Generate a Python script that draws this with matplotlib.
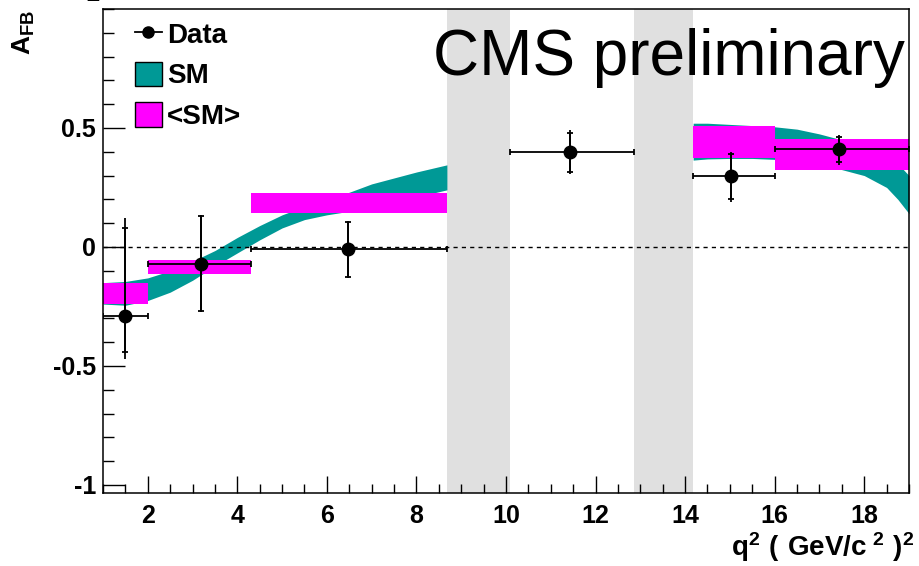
"""Forward-backward asymmetry A_FB versus q^2 with SM prediction bands."""

import matplotlib.pyplot as plt
from matplotlib.lines import Line2D
from matplotlib.patches import Patch
from matplotlib.ticker import MultipleLocator

plt.rcParams["font.family"] = ["Liberation Sans", "DejaVu Sans"]
plt.rcParams["mathtext.fontset"] = "custom"
plt.rcParams["mathtext.rm"] = "Liberation Sans"
plt.rcParams["mathtext.bf"] = "Liberation Sans:bold"
plt.rcParams["mathtext.default"] = "bf"

# measured points: bin edges, central value, stat and total error ends
bin_lo = [1.0, 2.0, 4.3, 10.09, 14.18, 16.0]
bin_hi = [2.0, 4.3, 8.68, 12.86, 16.0, 19.0]
q2_pt = [1.5, 3.18, 6.48, 11.44, 15.02, 17.44]
afb = [-0.29, -0.07, -0.01, 0.40, 0.30, 0.41]
stat_hi = [0.08, 0.13, 0.105, 0.48, 0.39, 0.46]
stat_lo = [-0.44, -0.27, -0.125, 0.315, 0.20, 0.355]
tot_hi = [0.12, 0.135, 0.11, 0.49, 0.40, 0.47]
tot_lo = [-0.47, -0.275, -0.13, 0.305, 0.19, 0.345]

# bin-averaged SM prediction (no entry for the 10.09-12.86 bin)
avg_lo_x = [1.0, 2.0, 4.3, 14.18, 16.0]
avg_hi_x = [2.0, 4.3, 8.68, 16.0, 19.0]
avg_lo_y = [-0.24, -0.115, 0.142, 0.373, 0.322]
avg_hi_y = [-0.153, -0.055, 0.228, 0.51, 0.454]

# SM band, low and high q^2 regions
sm_q2_low = [1.0, 1.5, 2.0, 2.5, 3.0, 3.5, 4.0, 4.5, 5.0, 5.5, 6.0, 6.5, 7.0, 7.5, 8.0, 8.68]
sm_up_low = [-0.15, -0.145, -0.13, -0.10, -0.06, -0.015, 0.04, 0.09, 0.135, 0.17, 0.20, 0.23, 0.265, 0.29, 0.315, 0.345]
sm_dn_low = [-0.24, -0.245, -0.225, -0.19, -0.14, -0.08, -0.025, 0.03, 0.08, 0.115, 0.135, 0.15, 0.17, 0.19, 0.21, 0.24]
sm_q2_high = [14.18, 14.5, 15.0, 15.5, 16.0, 16.5, 17.0, 17.5, 18.0, 18.5, 18.75, 19.0]
sm_up_high = [0.52, 0.52, 0.515, 0.51, 0.505, 0.495, 0.475, 0.45, 0.42, 0.38, 0.35, 0.30]
sm_dn_high = [0.365, 0.37, 0.372, 0.372, 0.368, 0.36, 0.35, 0.325, 0.30, 0.25, 0.20, 0.14]

# charmonium veto regions
veto = [(8.68, 10.09), (12.86, 14.18)]

TEAL = "#009996"
MAGENTA = "#ff00ff"

fig = plt.figure(figsize=(9.2, 5.66), dpi=100)
ax = fig.add_axes([103 / 920, 1 - 493 / 566, 806 / 920, 484 / 566])

for lo, hi in veto:
    ax.axvspan(lo, hi, color="#e0e0e0", lw=0, zorder=0)

ax.fill_between(sm_q2_low, sm_dn_low, sm_up_low, color=TEAL, lw=0, zorder=1)
ax.fill_between(sm_q2_high, sm_dn_high, sm_up_high, color=TEAL, lw=0, zorder=1)

for x0, x1, y0, y1 in zip(avg_lo_x, avg_hi_x, avg_lo_y, avg_hi_y):
    ax.fill_between([x0, x1], [y0, y0], [y1, y1], color=MAGENTA, lw=0, zorder=2)

ax.axhline(0, color="black", lw=1.0, ls=(0, (3, 3)), zorder=3)

xerr = [[p - lo for p, lo in zip(q2_pt, bin_lo)], [hi - p for p, hi in zip(q2_pt, bin_hi)]]
yerr_stat = [[y - lo for y, lo in zip(afb, stat_lo)], [hi - y for y, hi in zip(afb, stat_hi)]]
yerr_tot = [[y - lo for y, lo in zip(afb, tot_lo)], [hi - y for y, hi in zip(afb, tot_hi)]]

ax.errorbar(q2_pt, afb, yerr=yerr_tot, fmt="none", ecolor="black", elinewidth=1.3, zorder=4)
ax.errorbar(q2_pt, afb, xerr=xerr, yerr=yerr_stat, fmt="o", color="black",
            markersize=9, elinewidth=1.3, capsize=2.3, capthick=1.3, zorder=5)

ax.set_xlim(1, 19)
ax.set_ylim(-1.034, 1.0)
ax.xaxis.set_major_locator(MultipleLocator(2))
ax.xaxis.set_minor_locator(MultipleLocator(0.5))
ax.yaxis.set_minor_locator(MultipleLocator(0.1))
ax.set_yticks([-1, -0.5, 0, 0.5])
ax.set_yticklabels(["-1", "-0.5", "0", "0.5"])

ax.tick_params(axis="x", which="major", direction="in", length=12, width=1, pad=8,
               labelsize=18)
ax.tick_params(axis="x", which="minor", direction="in", length=6.5, width=1)
ax.tick_params(axis="y", which="major", direction="in", length=16, width=1, pad=5,
               labelsize=18)
ax.tick_params(axis="y", which="minor", direction="in", length=8, width=1)
for lab in ax.get_xticklabels() + ax.get_yticklabels():
    lab.set_fontweight("bold")
for sp in ax.spines.values():
    sp.set_linewidth(1.1)

handles = [
    Line2D([], [], color="black", lw=1.3, marker="o", markersize=8),
    Patch(facecolor=TEAL, edgecolor="black", lw=1),
    Patch(facecolor=MAGENTA, edgecolor="black", lw=1),
]
ax.legend(handles, ["Data", "SM", "<SM>"], loc="upper left",
          bbox_to_anchor=(0.04, 0.975), frameon=False, borderpad=0,
          borderaxespad=0, handlelength=0.95, handleheight=1.0,
          handletextpad=0.2, labelspacing=0.45,
          prop={"weight": "bold", "size": 20})

fig.text(905 / 920, 1 - 75 / 566, "CMS preliminary", ha="right", va="baseline",
         fontsize=46)

fig.text(24 / 920, 1 - 10 / 566, r"$A_{FB}$", rotation=90, ha="center", va="top",
         fontsize=19)
fig.text(92 / 920, 1 - 6 / 566, "1", ha="center", va="bottom", fontsize=18,
         fontweight="bold")
fig.text(914 / 920, 1 - 556 / 566, r"$q^{2}\ (\ GeV/c^{\ 2}\ )^{2}$", ha="right",
         va="baseline", fontsize=20)

fig.savefig("out.png", dpi=100)
